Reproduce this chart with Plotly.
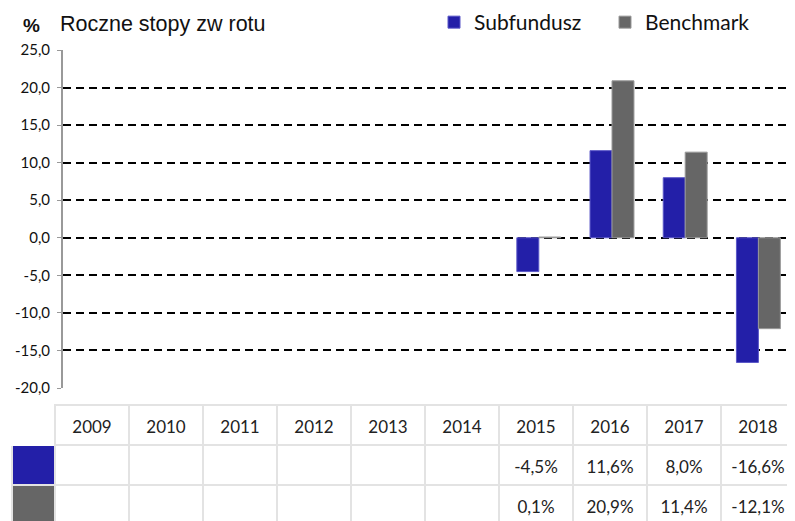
import plotly.graph_objects as go

years = ["2009", "2010", "2011", "2012", "2013", "2014", "2015", "2016", "2017", "2018"]
subfundusz = [None, None, None, None, None, None, -4.5, 11.6, 8.0, -16.6]
benchmark = [None, None, None, None, None, None, 0.1, 20.9, 11.4, -12.1]
y_ticks = [-20, -15, -10, -5, 0, 5, 10, 15, 20, 25]
y_ticktext = ["-20,0", "-15,0", "-10,0", "-5,0", "0,0", "5,0", "10,0", "15,0", "20,0", "25,0"]

BLUE = "#231fa8"
GRAY = "#666666"
CLEAR = "rgba(0,0,0,0)"
# page body adds an 8px offset; the figure runs slightly past the window's lower edge
W, H = 787, 525
OFF = 8


def px_x(x):
    return (x - OFF) / W


def px_y(y):
    return (H - (y - OFF)) / H


def fmt(v):
    return "" if v is None else f"{v:.1f}".replace(".", ",") + "%"


fig = go.Figure()
fig.add_trace(go.Bar(x=years, y=subfundusz, name="Subfundusz", legend="legend",
                     marker=dict(color=BLUE, line=dict(color="#5a57c8", width=1))))
fig.add_trace(go.Bar(x=years, y=benchmark, name="Benchmark", legend="legend2",
                     marker=dict(color=GRAY, line=dict(color="#999999", width=1))))

n = len(years)
colw = [43] + [74] * n
cell_vals = [["", ""]] + [[fmt(s), fmt(b)] for s, b in zip(subfundusz, benchmark)]
fills = [[BLUE, GRAY]] + [["white", "white"] for _ in years]
tfont = dict(family="Lato", size=17, color="#222222")

# grid of the table (borders and swatches)
fig.add_trace(go.Table(
    domain=dict(x=[px_x(12), 1], y=[px_y(525), px_y(405)]),
    columnwidth=colw,
    header=dict(values=[""] * (n + 1), fill_color="white", height=40,
                line=dict(color=["white"] + ["#e3e3e3"] * n, width=2)),
    cells=dict(values=[["", ""]] * (n + 1), fill_color=fills, height=40,
               line=dict(color="#e3e3e3", width=2)),
))
# texts of the table, set a little lower in their cells
fig.add_trace(go.Table(
    domain=dict(x=[px_x(12), 1], y=[0, px_y(412)]),
    columnwidth=colw,
    header=dict(values=[""] + years, fill_color=CLEAR, height=40,
                line=dict(color=CLEAR, width=0), font=tfont, align="center"),
    cells=dict(values=cell_vals, fill_color=CLEAR, height=40,
               line=dict(color=CLEAR, width=0), font=tfont, align="center"),
))

legend_style = dict(orientation="h", xanchor="left", yanchor="top", y=px_y(2),
                    font=dict(family="Lato", size=21, color="#111111"), itemwidth=30,
                    bgcolor="rgba(0,0,0,0)")

fig.update_layout(
    width=W, height=H,
    margin=dict(l=0, r=0, t=0, b=0, autoexpand=False),
    paper_bgcolor="white", plot_bgcolor="white",
    barmode="group", bargap=0.4, bargroupgap=0,
    showlegend=True,
    legend=dict(x=px_x(434), **legend_style),
    legend2=dict(x=px_x(605), **legend_style),
    xaxis=dict(domain=[px_x(63), 1], range=[-0.5, 9.5], showticklabels=False, showgrid=False,
               zeroline=False, showline=False, ticks=""),
    yaxis=dict(domain=[px_y(388), px_y(50)], range=[-20, 25], tickvals=y_ticks, ticktext=y_ticktext,
               showgrid=True, gridcolor="black", gridwidth=2, griddash="8px,5px",
               zeroline=False, showline=True, linecolor="#999999", linewidth=2,
               ticks="outside", ticklen=4, tickcolor="#999999", ticklabelstandoff=4,
               tickfont=dict(family="Lato", size=15, color="#111111")),
    annotations=[
        dict(text="<b>%</b>", x=px_x(21), y=px_y(25), xref="paper", yref="paper", xanchor="left", yanchor="middle",
             showarrow=False, font=dict(family="Liberation Sans", size=19, color="#111111")),
        dict(text="Roczne stopy zw rotu", x=px_x(58), y=px_y(24), xref="paper", yref="paper", xanchor="left",
             yanchor="middle", showarrow=False, font=dict(family="Liberation Sans", size=21.5, color="#111111")),
    ],
)

fig.write_html("out.html")
